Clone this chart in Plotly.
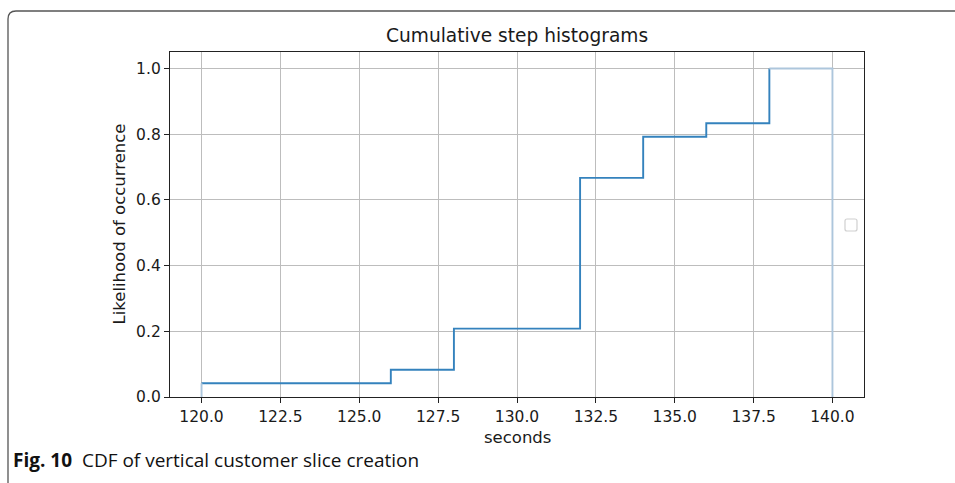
import plotly.graph_objects as go

# ---- data ----
step_edges = [120, 126, 128, 132, 134, 136, 138, 140]
cdf_values = [0.042, 0.083, 0.208, 0.667, 0.792, 0.833, 1.0]
x_ticks = [120.0, 122.5, 125.0, 127.5, 130.0, 132.5, 135.0, 137.5, 140.0]
y_ticks = [0.0, 0.2, 0.4, 0.6, 0.8, 1.0]

title_text = "Cumulative step histograms"
x_label = "seconds"
y_label = "Likelihood of occurrence"
caption_bold = "Fig. 10"
caption_text = "CDF of vertical customer slice creation"

W, H = 955, 483
L, R, T, B = 170, 91, 52, 86
pw, ph = W - L - R, H - T - B


def px(xp):
    return (xp - L) / pw


def py(yp):
    return (H - B - yp) / ph


blue = "#3482bd"
light_blue = "#adc6dc"

fig = go.Figure()

# main step line (interior part)
fig.add_trace(go.Scatter(
    x=step_edges[:-1], y=cdf_values, mode="lines", line_shape="hv",
    line=dict(color=blue, width=1.9), showlegend=False, hoverinfo="skip"))

# edge segments that coincide with gridlines (appear lighter)
edge_x = [step_edges[0], step_edges[0], None,
          step_edges[-2], step_edges[-1], step_edges[-1]]
edge_y = [0, cdf_values[0], None,
          cdf_values[-1], cdf_values[-1], 0]
fig.add_trace(go.Scatter(
    x=edge_x, y=edge_y, mode="lines",
    line=dict(color=light_blue, width=1.9), showlegend=False, hoverinfo="skip"))

font_main = "DejaVu Sans"

axis_common = dict(
    showgrid=True, gridcolor="#bdbdbd", gridwidth=1.3,
    showline=True, linecolor="#222222", linewidth=1.3, mirror=True,
    ticks="outside", ticklen=5, tickwidth=1.2, tickcolor="#222222",
    zeroline=False,
    tickfont=dict(family=font_main, size=15.5, color="#1a1a1a"),
)

fig.update_layout(
    width=W, height=H,
    margin=dict(l=L, r=R, t=T, b=B, autoexpand=False),
    paper_bgcolor="white", plot_bgcolor="white",
    showlegend=False,
    xaxis=dict(range=[119, 141], tickvals=x_ticks,
               ticktext=[f"{v:.1f}" for v in x_ticks], **axis_common),
    yaxis=dict(range=[0, 1.05], tickvals=y_ticks,
               ticktext=[f"{v:.1f}" for v in y_ticks], **axis_common),
)

annotations = [
    dict(text=title_text, x=0.5, y=py(36), xref="paper", yref="paper",
         xanchor="center", yanchor="middle", showarrow=False,
         font=dict(family=font_main, size=18.6, color="#1a1a1a")),
    dict(text=x_label, x=0.5, y=py(438), xref="paper", yref="paper",
         xanchor="center", yanchor="middle", showarrow=False,
         font=dict(family=font_main, size=16.5, color="#1a1a1a")),
    dict(text=y_label, x=px(119), y=0.5, xref="paper", yref="paper",
         xanchor="center", yanchor="middle", showarrow=False, textangle=-90,
         font=dict(family=font_main, size=16.5, color="#1a1a1a")),
    dict(text=f"<b>{caption_bold}</b>  {caption_text}", x=px(11), y=py(460),
         xref="paper", yref="paper", xanchor="left", yanchor="middle",
         showarrow=False,
         font=dict(family="Open Sans", size=19, color="#111111")),
]
fig.update_layout(annotations=annotations)

# figure frame (rounded top-left corner) and empty legend box
r = 8
frame_path = (f"M {px(8)},{py(H + 2)} L {px(8)},{py(11 + r)} "
              f"Q {px(8)},{py(11)} {px(8 + r)},{py(11)} L {px(W + 5)},{py(11)}")
lx0, lx1, ly0, ly1, lr = 845, 857, 219, 231, 2
legend_path = (f"M {px(lx0 + lr)},{py(ly0)} L {px(lx1 - lr)},{py(ly0)} "
               f"Q {px(lx1)},{py(ly0)} {px(lx1)},{py(ly0 + lr)} "
               f"L {px(lx1)},{py(ly1 - lr)} Q {px(lx1)},{py(ly1)} {px(lx1 - lr)},{py(ly1)} "
               f"L {px(lx0 + lr)},{py(ly1)} Q {px(lx0)},{py(ly1)} {px(lx0)},{py(ly1 - lr)} "
               f"L {px(lx0)},{py(ly0 + lr)} Q {px(lx0)},{py(ly0)} {px(lx0 + lr)},{py(ly0)} Z")
fig.update_layout(shapes=[
    dict(type="path", path=frame_path, xref="paper", yref="paper",
         line=dict(color="#555555", width=1.3)),
    dict(type="path", path=legend_path, xref="paper", yref="paper",
         line=dict(color="#d0d0d0", width=1.2), fillcolor="white"),
])

fig.write_html("out.html", config={"displayModeBar": False},
               post_script="document.body.style.margin='0';"
                           "document.body.style.overflow='hidden';")
